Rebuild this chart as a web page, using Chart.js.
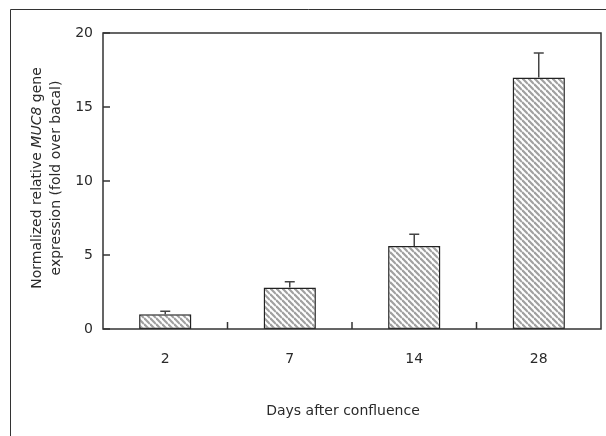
<!DOCTYPE html>
<html>
<head>
<meta charset="utf-8">
<script src="https://cdn.jsdelivr.net/npm/chart.js@4"></script>
<style>
  body { margin: 0; background: #fff; }
  #wrap { width: 606px; height: 436px; }
</style>
</head>
<body>
<div id="wrap"><canvas id="mucChart" width="606" height="436"></canvas></div>
<script>
const days = ["2", "7", "14", "28"];
const expression = [1.0, 2.8, 5.6, 17.0];
const errors = [0.2, 0.4, 0.8, 1.65];
const yTicks = [0, 5, 10, 15, 20];

const FONT = "'DejaVu Sans', sans-serif";

// hatch pattern, lines going down to the right
function makeHatch() {
  const s = 6;
  const c = document.createElement("canvas");
  c.width = s; c.height = s;
  const g = c.getContext("2d");
  g.fillStyle = "#fff";
  g.fillRect(0, 0, s, s);
  g.strokeStyle = "#a0a0a0";
  g.lineWidth = 2.2;
  for (let k = -1; k <= 1; k++) {
    g.beginPath();
    g.moveTo(0, k * s);
    g.lineTo(s, s + k * s);
    g.stroke();
  }
  return g.createPattern(c, "repeat");
}

const extras = {
  id: "extras",
  afterDatasetsDraw(chart) {
    const ctx = chart.ctx;
    const x = chart.scales.x, y = chart.scales.y;
    const area = chart.chartArea;
    const meta = chart.getDatasetMeta(0);
    ctx.save();

    // error bars
    ctx.strokeStyle = "#444";
    ctx.lineWidth = 1.5;
    meta.data.forEach((bar, i) => {
      const top = y.getPixelForValue(expression[i]);
      const hi = y.getPixelForValue(expression[i] + errors[i]);
      ctx.beginPath();
      ctx.moveTo(bar.x, top);
      ctx.lineTo(bar.x, hi);
      ctx.moveTo(bar.x - 5, hi);
      ctx.lineTo(bar.x + 5, hi);
      ctx.stroke();
    });

    // plot box
    ctx.strokeStyle = "#333";
    ctx.lineWidth = 1.5;
    ctx.strokeRect(area.left, area.top, area.right - area.left, area.bottom - area.top);

    // inward y ticks
    yTicks.forEach(v => {
      const py = y.getPixelForValue(v);
      ctx.beginPath();
      ctx.moveTo(area.left, py);
      ctx.lineTo(area.left + 7, py);
      ctx.stroke();
    });
    // inward x ticks between categories
    for (let i = 1; i < days.length; i++) {
      const px = (x.getPixelForValue(i - 1) + x.getPixelForValue(i)) / 2;
      ctx.beginPath();
      ctx.moveTo(px, area.bottom);
      ctx.lineTo(px, area.bottom - 7);
      ctx.stroke();
    }

    // outer frame (top and left edges)
    ctx.strokeStyle = "#333";
    ctx.lineWidth = 1;
    ctx.beginPath();
    ctx.moveTo(10.5, 436);
    ctx.lineTo(10.5, 9.5);
    ctx.lineTo(606, 9.5);
    ctx.stroke();

    // axis titles
    ctx.fillStyle = "#2a2a2a";
    ctx.font = "14px " + FONT;
    ctx.textAlign = "center";
    ctx.textBaseline = "middle";
    ctx.fillText("Days after confluence", 343, 411);

    ctx.translate(37, 178);
    ctx.rotate(-Math.PI / 2);
    const parts = [
      ["Normalized relative ", "14px " + FONT],
      ["MUC8", "italic 14px " + FONT],
      [" gene", "14px " + FONT]
    ];
    let total = 0;
    parts.forEach(p => { ctx.font = p[1]; total += ctx.measureText(p[0]).width; });
    let cx = -total / 2;
    ctx.textAlign = "left";
    parts.forEach(p => {
      ctx.font = p[1];
      ctx.fillText(p[0], cx, 0);
      cx += ctx.measureText(p[0]).width;
    });
    ctx.font = "14px " + FONT;
    ctx.textAlign = "center";
    ctx.fillText("expression (fold over bacal)", 0, 19);
    ctx.restore();
  }
};

new Chart(document.getElementById("mucChart").getContext("2d"), {
  type: "bar",
  data: {
    labels: days,
    datasets: [{
      data: expression,
      backgroundColor: makeHatch(),
      borderColor: "#222",
      borderWidth: 1.5,
      borderSkipped: false,
      barPercentage: 0.84,
      categoryPercentage: 0.5
    }]
  },
  options: {
    responsive: false,
    animation: false,
    layout: { padding: { top: 33, right: 5, left: 0, bottom: 0 } },
    plugins: { legend: { display: false }, tooltip: { enabled: false } },
    scales: {
      x: {
        grid: { display: false, drawTicks: false },
        border: { display: false },
        ticks: { color: "#2a2a2a", font: { family: FONT, size: 14 }, padding: 22 },
        afterFit: s => { s.height = 107; }
      },
      y: {
        min: 0,
        max: 20,
        grid: { display: false, drawTicks: false },
        border: { display: false },
        ticks: {
          stepSize: 5,
          color: "#2a2a2a",
          font: { family: FONT, size: 14 },
          padding: 10
        },
        afterFit: s => { s.width = 103; }
      }
    }
  },
  plugins: [extras]
});
</script>
</body>
</html>
